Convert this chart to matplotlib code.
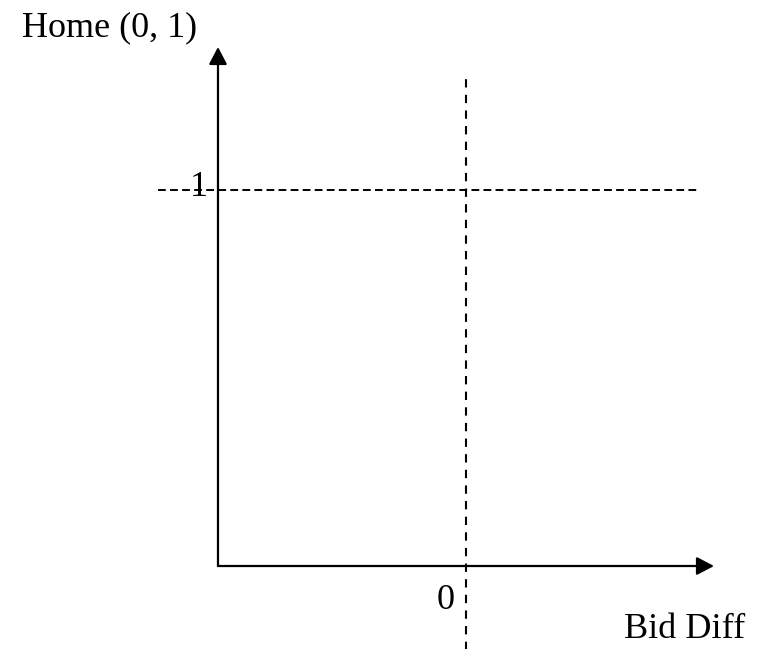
import matplotlib.pyplot as plt

# axis extents (data units: bid difference on x, home probability on y)
x_axis_start = -1.0
x_axis_end = 1.0
y_axis_top = 1.38
home_level = 1.0
zero_bid = 0.0
hline_span = (-1.24, 0.935)
vline_span = (-0.23, 1.31)

x_label = "Bid Diff"
y_label = "Home (0, 1)"
y_tick = "1"
x_tick = "0"

plt.rcParams['font.family'] = ['Liberation Serif', 'DejaVu Serif']

fig = plt.figure(figsize=(7.74, 6.49), dpi=100)
ax = fig.add_axes([0, 0, 1, 1])
ax.set_xlim(-1.879, 1.242)
ax.set_ylim(-0.2207, 1.505)
ax.axis('off')

# solid axes with arrow heads
arrow = dict(arrowstyle='-|>,head_length=1.05,head_width=0.55', color='black', lw=1.6,
             shrinkA=0, shrinkB=0)
ax.annotate('', xy=(x_axis_end, 0), xytext=(x_axis_start, 0), arrowprops=arrow)
ax.annotate('', xy=(x_axis_start, y_axis_top), xytext=(x_axis_start, 0), arrowprops=arrow)

# dashed reference lines
ax.plot(hline_span, [home_level, home_level], color='black', lw=1.4, ls=(0, (4, 2.2)))
ax.plot([zero_bid, zero_bid], vline_span, color='black', lw=1.5, ls=(0, (4, 3.5)))

fs = 26
ax.text(-1.077, 0.984, y_tick, fontsize=fs, ha='center', va='baseline')
ax.text(-0.081, -0.114, x_tick, fontsize=fs, ha='center', va='baseline')
ax.text(-1.79, 1.4096, y_label, fontsize=fs, ha='left', va='baseline')
ax.text(0.88, -0.1915, x_label, fontsize=fs, ha='center', va='baseline')

fig.savefig('out.png', dpi=100)
